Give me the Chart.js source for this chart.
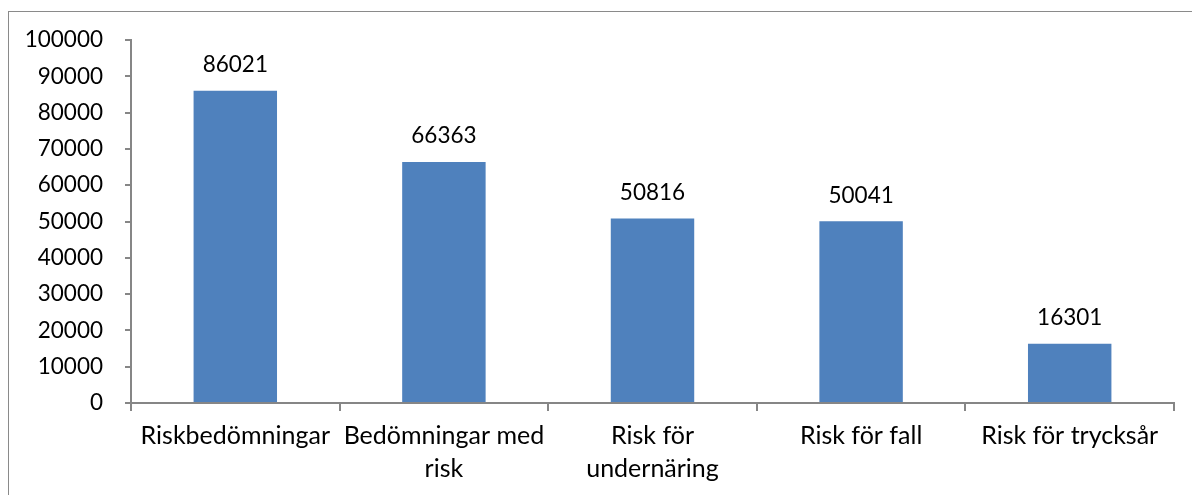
<!DOCTYPE html>
<html><head><meta charset="utf-8">
<script src="https://cdn.jsdelivr.net/npm/chart.js@4"></script>
<style>
html,body{margin:0;padding:0;background:#fff;overflow:hidden;width:1192px;height:495px;}
#frame{position:absolute;left:8px;top:11px;width:1300px;height:600px;border:1px solid #8a8a8a;box-sizing:border-box;}
#c{position:absolute;left:0;top:0;}
</style></head><body>
<div id="frame"></div>
<canvas id="c" width="1192" height="495"></canvas>
<script>
const categories = [["Riskbedömningar"], ["Bedömningar med", "risk"], ["Risk för", "undernäring"], ["Risk för fall"], ["Risk för trycksår"]];
const values = [86021, 66363, 50816, 50041, 16301];
const yTickValues = [0, 10000, 20000, 30000, 40000, 50000, 60000, 70000, 80000, 90000, 100000];

const FONT = "Lato, 'Open Sans', sans-serif";
const NSIZE = 22.5;
const XSIZE = 25;
const AXIS = '#868686';

const valueLabels = {
  id: 'valueLabels',
  afterDatasetsDraw(chart) {
    const ctx = chart.ctx;
    const meta = chart.getDatasetMeta(0);
    ctx.save();
    ctx.font = NSIZE + 'px ' + FONT;
    ctx.fillStyle = '#000';
    ctx.textAlign = 'center';
    ctx.textBaseline = 'middle';
    meta.data.forEach((bar, i) => {
      ctx.fillText(String(chart.data.datasets[0].data[i]), bar.x, bar.y - 26);
    });
    ctx.restore();
  }
};

new Chart(document.getElementById('c'), {
  type: 'bar',
  data: {
    labels: categories,
    datasets: [{
      data: values,
      backgroundColor: '#4F81BD',
      borderWidth: 0,
      barPercentage: 0.8,
      categoryPercentage: 0.5
    }]
  },
  options: {
    responsive: false,
    animation: false,
    devicePixelRatio: 1,
    layout: { padding: { left: 0, right: 18, top: 40, bottom: 0 } },
    plugins: { legend: { display: false }, tooltip: { enabled: false }, title: { display: false } },
    scales: {
      x: {
        offset: true,
        border: { display: true, color: AXIS, width: 2 },
        grid: { display: true, offset: true, drawOnChartArea: false, drawTicks: true, tickLength: 8, color: AXIS, lineWidth: 2 },
        ticks: { color: '#000', font: { family: FONT, size: XSIZE, lineHeight: 1.3 }, padding: 9, maxRotation: 0, autoSkip: false },
        afterFit(s) { s.height = 92; }
      },
      y: {
        min: 0, max: 100000,
        border: { display: true, color: AXIS, width: 2 },
        grid: { display: true, drawOnChartArea: false, drawTicks: true, tickLength: 6, color: AXIS, lineWidth: 2 },
        afterBuildTicks(s) { s.ticks = yTickValues.map(v => ({ value: v })); },
        ticks: { color: '#000', font: { family: FONT, size: NSIZE }, padding: 22, callback: v => String(v) },
        afterFit(s) { s.width = 131; }
      }
    }
  },
  plugins: [valueLabels]
});
</script>
</body></html>
